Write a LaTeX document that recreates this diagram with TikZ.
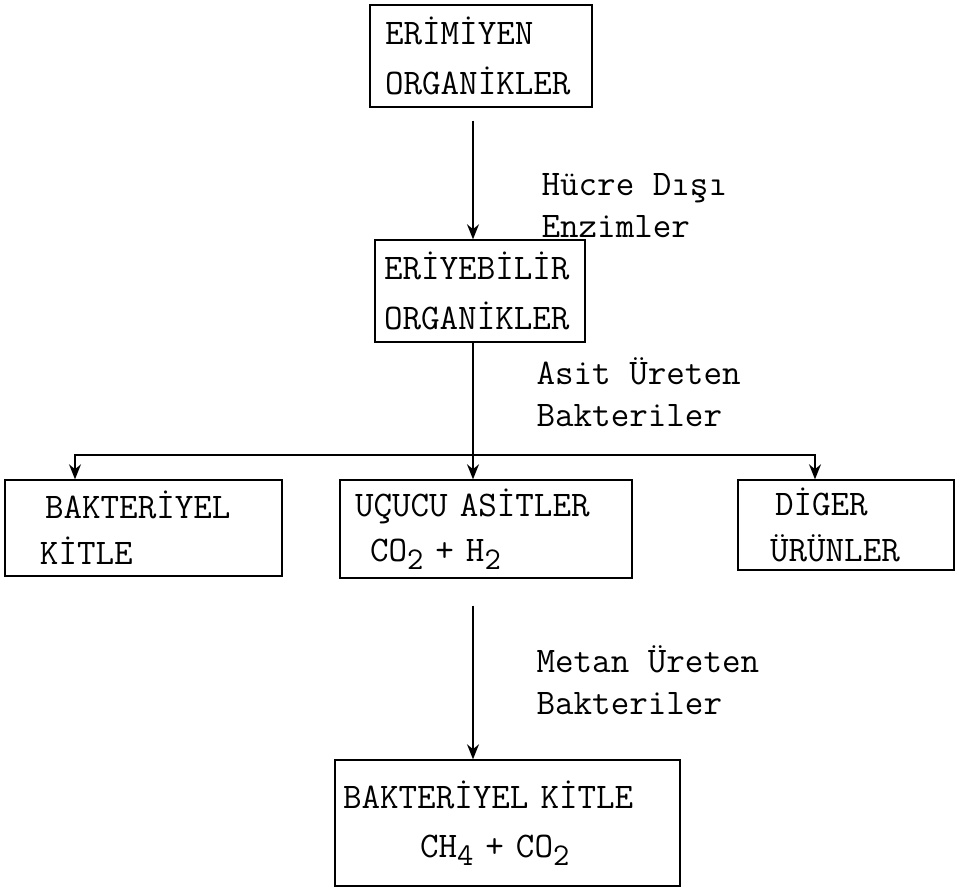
\documentclass[tikz,border=0pt]{standalone}
\usepackage{fontspec}
\usetikzlibrary{arrows.meta,positioning}
\tikzset{
  stage/.style={draw,rectangle,align=left,inner ysep=0pt,font=\ttfamily\fontsize{20.5}{24}\selectfont},
  note/.style={align=left,anchor=west,font=\ttfamily\fontsize{20.5}{24}\selectfont}
}
\newcommand\lowidx[1]{\raisebox{-0.5ex}{\fontsize{18}{20}\selectfont#1}}

\begin{document}
\begin{tikzpicture}[>={Stealth[length=3mm,width=2.4mm]},thick]
  \useasboundingbox (0,0) rectangle (19.1,-17.76);

  \node[stage,text width=3.84cm,inner xsep=0.3cm,minimum height=2.04cm] (erimiyen) at (9.62,-1.12) {ERİMİYEN\\[4pt]ORGANİKLER};
  \node[stage,text width=3.84cm,inner xsep=0.18cm,minimum height=2.04cm] (eriyebilir) at (9.6,-5.82) {ERİYEBİLİR\\[4pt]ORGANİKLER};
  \node[stage,text width=3.94cm,inner xsep=0.8cm,minimum height=1.92cm] (bakteri) at (2.87,-10.56) {BAKTERİYEL\\[2pt]\hspace{-0.1cm}KİTLE};
  \node[stage,text width=5.24cm,inner xsep=0.3cm,minimum height=1.96cm] (ucucu) at (9.72,-10.58) {UÇUCU ASİTLER\\[2pt]\hspace{0.3cm}CO\lowidx{2} + H\lowidx{2}};
  \node[stage,text width=2.84cm,inner xsep=0.74cm,minimum height=1.8cm] (diger) at (16.92,-10.5) {DİGER\\[2pt]\hspace{-0.1cm}ÜRÜNLER};
  \node[stage,text width=6.58cm,inner xsep=0.16cm,minimum height=2.52cm] (son) at (10.15,-16.46) {BAKTERİYEL KİTLE\\[4pt]\hspace{1.54cm}CH\lowidx{4} + CO\lowidx{2}};

  \node[note] (hucre) at (10.7,-4.11) {Hücre Dışı\\[0pt]Enzimler};
  \node[note] (asit) at (10.6,-7.85) {Asit Üreten\\[0pt]Bakteriler};
  \node[note] (metan) at (10.6,-13.6) {Metan Üreten\\[0pt]Bakteriler};

  \coordinate (spine) at (9.46,0);
  \coordinate (split) at (9.46,-9.1);
  \coordinate (ltap) at (1.5,-9.1);
  \coordinate (rtap) at (16.3,-9.1);

  \draw[->,shorten <=0.26cm] (erimiyen.south -| spine) -- (eriyebilir.north -| spine);
  \draw (eriyebilir.south -| spine) -- (split);
  \draw[->] (split) -- (ucucu.north -| spine);
  \draw[->] (split) -- (ltap) -- (bakteri.north -| ltap);
  \draw[->] (split) -- (rtap) -- (diger.north -| rtap);
  \draw[->,shorten <=0.54cm] (ucucu.south -| spine) -- (son.north -| spine);
\end{tikzpicture}
\end{document}
